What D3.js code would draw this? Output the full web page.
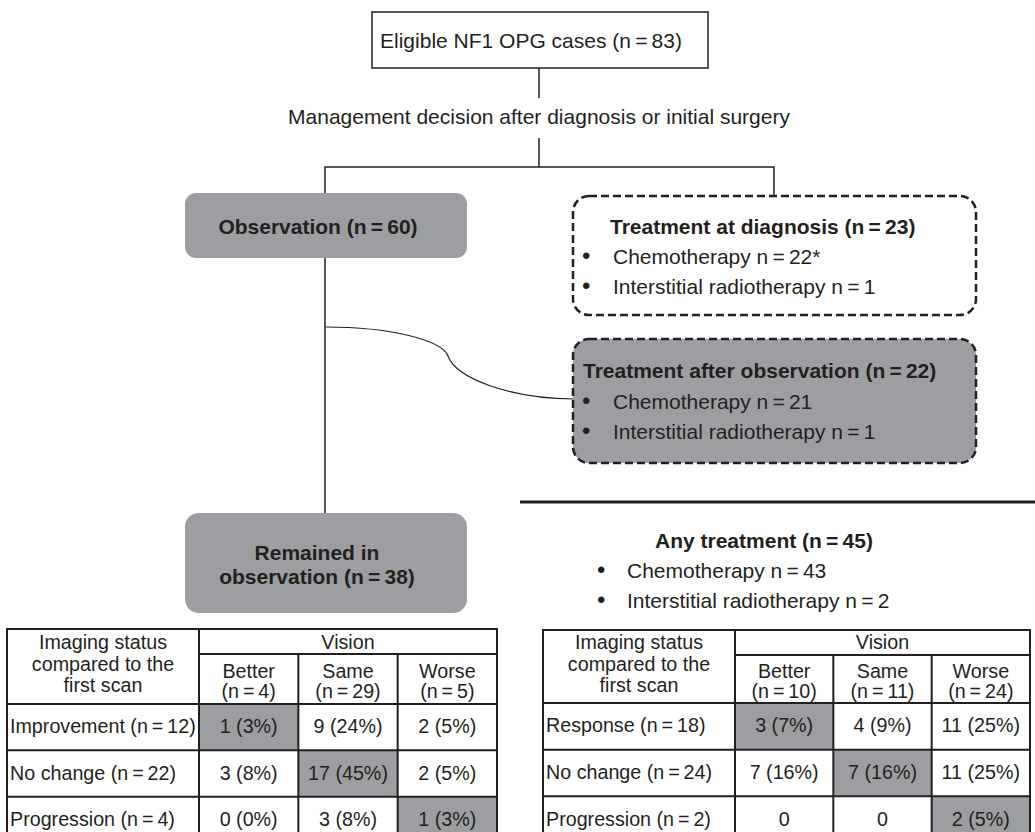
<!DOCTYPE html>
<html>
<head>
<meta charset="utf-8">
<script src="https://cdn.jsdelivr.net/npm/d3@7"></script>
<style>
  body { margin: 0; background: #fff; }
  svg { display: block; }
  text { font-family: "Liberation Sans", Arial, sans-serif; fill: #231f20; }
</style>
</head>
<body>
<div id="flow"></div>
<script>
// ---- data ----
const totalN = 83
const observationN = 60
const remainedN = 38
const diagnosisN = 23
const afterObsN = 22
const anyTreatN = 45
const diagnosisTx = ["Chemotherapy n\u2009=\u200922*", "Interstitial radiotherapy n\u2009=\u20091"]
const afterObsTx = ["Chemotherapy n\u2009=\u200921", "Interstitial radiotherapy n\u2009=\u20091"]
const anyTx = ["Chemotherapy n\u2009=\u200943", "Interstitial radiotherapy n\u2009=\u20092"]

const visionCols = ["Better", "Same", "Worse"]

const obsVisionN = [4, 29, 5]
const obsRows = ["Improvement", "No change", "Progression"]
const obsRowN = [12, 22, 4]
const obsCells = [
  ["1 (3%)", "9 (24%)", "2 (5%)"],
  ["3 (8%)", "17 (45%)", "2 (5%)"],
  ["0 (0%)", "3 (8%)", "1 (3%)"]
]

const txVisionN = [10, 11, 24]
const txRows = ["Response", "No change", "Progression"]
const txRowN = [18, 24, 2]
const txCells = [
  ["3 (7%)", "4 (9%)", "11 (25%)"],
  ["7 (16%)", "7 (16%)", "11 (25%)"],
  ["0", "0", "2 (5%)"]
]

const ink = "#231f20"
const grey = "#9d9ea1"
const eq = n => "n\u2009=\u2009" + n
const fs = "21px"      // flow chart text
const tfs = "19.7px"   // table text

const width = 1035, height = 832

const svg = d3.select("#flow")
  .append("svg")
    .attr("width", width)
    .attr("height", height)

// ---- top box ----
svg.append("rect")
  .attr("x", 372).attr("y", 12)
  .attr("width", 336).attr("height", 56)
  .attr("fill", "#fff").attr("stroke", ink).attr("stroke-width", 1.5)

svg.append("text")
  .attr("x", 531).attr("y", 48)
  .style("text-anchor", "middle").style("font-size", fs)
  .text("Eligible NF1 OPG cases (" + eq(totalN) + ")")

// connectors
var links = svg.append("g").attr("stroke", ink).attr("stroke-width", 1.5).attr("fill", "none")
links.append("path").attr("d", "M539,68V98")
links.append("path").attr("d", "M539,138V167")
links.append("path").attr("d", "M325,193V167H774V196")
links.append("path").attr("d", "M325,258V513")

svg.append("text")
  .attr("x", 539).attr("y", 124)
  .style("text-anchor", "middle").style("font-size", fs)
  .text("Management decision after diagnosis or initial surgery")

// curved link from observation line to treatment after observation
var p = d3.path()
p.moveTo(326, 327)
p.bezierCurveTo(390, 327, 442, 340, 448, 356)
p.bezierCurveTo(456, 378, 510, 399, 574, 399)
links.append("path").attr("d", p.toString()).attr("stroke-width", 1.2)

// ---- observation box ----
svg.append("rect")
  .attr("x", 185).attr("y", 193)
  .attr("width", 282).attr("height", 65)
  .attr("rx", 11).attr("fill", grey)

svg.append("text")
  .attr("x", 318).attr("y", 234)
  .style("text-anchor", "middle").style("font-size", fs).style("font-weight", "bold")
  .text("Observation (" + eq(observationN) + ")")

// ---- remained in observation ----
svg.append("rect")
  .attr("x", 185).attr("y", 513)
  .attr("width", 282).attr("height", 100)
  .attr("rx", 14).attr("fill", grey)

svg.append("text")
  .attr("x", 317).attr("y", 560)
  .style("text-anchor", "middle").style("font-size", fs).style("font-weight", "bold")
  .text("Remained in")
svg.append("text")
  .attr("x", 317).attr("y", 584)
  .style("text-anchor", "middle").style("font-size", fs).style("font-weight", "bold")
  .text("observation (" + eq(remainedN) + ")")

// ---- dashed treatment boxes ----
function bulletList(items, bx, tx, y0, step) {
  var g = svg.append("g")
  items.forEach(function (d, i) {
    g.append("text").attr("x", bx).attr("y", y0 + i * step)
      .style("font-size", "24px").text("\u2022")
    g.append("text").attr("x", tx).attr("y", y0 + i * step)
      .style("font-size", fs).text(d)
  })
}

svg.append("rect")
  .attr("x", 573).attr("y", 196)
  .attr("width", 403).attr("height", 119)
  .attr("rx", 16).attr("fill", "#fff")
  .attr("stroke", ink).attr("stroke-width", 2.5).attr("stroke-dasharray", "8,4")

svg.append("text")
  .attr("x", 610).attr("y", 234)
  .style("font-size", fs).style("font-weight", "bold")
  .text("Treatment at diagnosis (" + eq(diagnosisN) + ")")
bulletList(diagnosisTx, 582, 613, 264, 30)

svg.append("rect")
  .attr("x", 573).attr("y", 339)
  .attr("width", 403).attr("height", 124)
  .attr("rx", 16).attr("fill", grey)
  .attr("stroke", ink).attr("stroke-width", 2.5).attr("stroke-dasharray", "8,4")

svg.append("text")
  .attr("x", 583).attr("y", 378)
  .style("font-size", fs).style("font-weight", "bold")
  .text("Treatment after observation (" + eq(afterObsN) + ")")
bulletList(afterObsTx, 582, 613, 409, 30)

// ---- any treatment ----
svg.append("path").attr("d", "M520,502H1035")
  .attr("stroke", ink).attr("stroke-width", 3)

svg.append("text")
  .attr("x", 655).attr("y", 548)
  .style("font-size", fs).style("font-weight", "bold")
  .text("Any treatment (" + eq(anyTreatN) + ")")
bulletList(anyTx, 597, 627, 578, 30)

// ---- tables ----
function drawTable(cfg) {
  var g = svg.append("g")
  var x = d3.scaleBand().domain(visionCols).range([cfg.split, cfg.right])
  var y = d3.scaleBand().domain(cfg.rows).range([cfg.head, 843])

  // shaded diagonal cells
  g.selectAll(".shade")
    .data(cfg.rows)
    .enter().append("rect")
    .attr("x", function (d, i) { return x(visionCols[i]) })
    .attr("y", function (d) { return y(d) })
    .attr("width", x.bandwidth())
    .attr("height", y.bandwidth())
    .attr("fill", grey)

  var lines = g.append("g").attr("stroke", ink).attr("stroke-width", 2).attr("fill", "none")
  lines.append("path").attr("d", "M" + cfg.left + ",843V" + cfg.top + "H" + cfg.right + "V843")
  lines.append("path").attr("d", "M" + cfg.split + "," + cfg.top + "V843")
  lines.append("path").attr("d", "M" + cfg.split + "," + cfg.vision + "H" + cfg.right)
  visionCols.slice(1).forEach(function (c) {
    lines.append("path").attr("d", "M" + x(c) + "," + cfg.vision + "V843")
  })
  cfg.rows.forEach(function (r) {
    lines.append("path").attr("d", "M" + cfg.left + "," + y(r) + "H" + cfg.right)
  })

  // header
  var hx = (cfg.left + cfg.split) / 2
  ;["Imaging status", "compared to the", "first scan"].forEach(function (t, i) {
    g.append("text").attr("x", hx).attr("y", 649 + i * 21.5)
      .style("text-anchor", "middle").style("font-size", tfs).text(t)
  })
  g.append("text").attr("x", (cfg.split + cfg.right) / 2).attr("y", 649)
    .style("text-anchor", "middle").style("font-size", tfs).text("Vision")

  visionCols.forEach(function (c, i) {
    var cx = x(c) + x.bandwidth() / 2
    g.append("text").attr("x", cx).attr("y", 678)
      .style("text-anchor", "middle").style("font-size", tfs).text(c)
    g.append("text").attr("x", cx).attr("y", 698)
      .style("text-anchor", "middle").style("font-size", tfs).text("(" + eq(cfg.colN[i]) + ")")
  })

  // rows
  cfg.rows.forEach(function (r, i) {
    var by = y(r) + y.bandwidth() * 0.63
    g.append("text").attr("x", cfg.left + 3).attr("y", by)
      .style("font-size", tfs).text(r + " (" + eq(cfg.rowN[i]) + ")")
    cfg.cells[i].forEach(function (v, j) {
      g.append("text").attr("x", x(visionCols[j]) + x.bandwidth() / 2).attr("y", by)
        .style("text-anchor", "middle").style("font-size", tfs).text(v)
    })
  })
}

drawTable({ left: 7, split: 199, right: 497, top: 629, vision: 654, head: 704,
  rows: obsRows, rowN: obsRowN, colN: obsVisionN, cells: obsCells })

drawTable({ left: 543, split: 735, right: 1030, top: 630, vision: 655, head: 703,
  rows: txRows, rowN: txRowN, colN: txVisionN, cells: txCells })
</script>
</body>
</html>
